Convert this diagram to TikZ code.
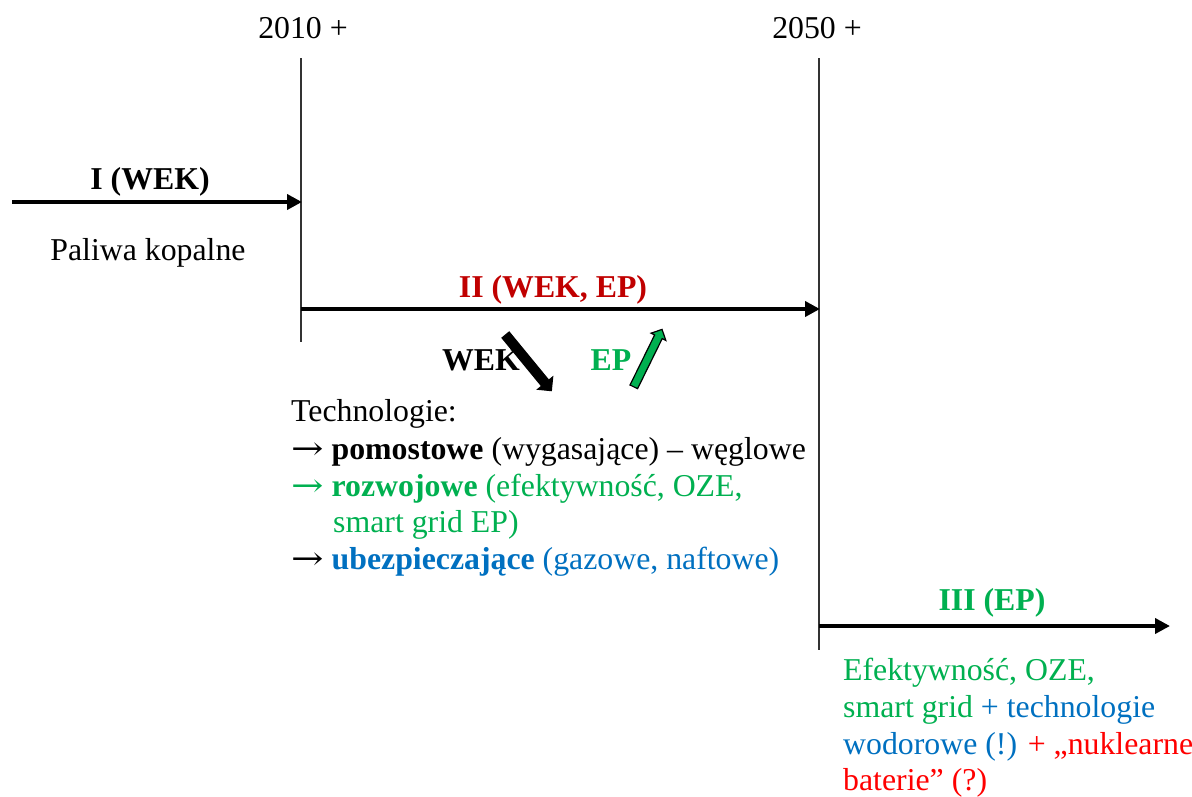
\documentclass[tikz,border=0pt]{standalone}
\usepackage{fontspec}
\setmainfont{Liberation Serif}
\newfontfamily\arrowfont{DejaVu Serif}
\usetikzlibrary{arrows.meta,shapes.arrows}
\definecolor{cgreen}{RGB}{0,176,80}
\definecolor{cblue}{RGB}{0,112,192}
\definecolor{cred}{RGB}{255,0,0}
\definecolor{cdred}{RGB}{192,0,0}
\newcommand{\itemarrow}{\scalebox{1.22}[1]{\arrowfont\mdseries →}}
\begin{document}
\begin{tikzpicture}[x=1pt,y=-1pt,
  txt/.style={inner sep=0pt,font=\fontsize{31.8}{37}\selectfont},
  bftxt/.style={inner sep=0pt,font=\fontsize{31.8}{37}\selectfont\bfseries},
  lbl/.style={txt,anchor=base},
  blbl/.style={bftxt,anchor=base},
  line/.style={anchor=base west,txt},
  vline/.style={line width=1.6pt,black!80},
  period/.style={line width=3.8pt,-{Triangle[length=15pt,width=15pt]}},
  blockarrow/.style={single arrow,draw=black,line width=1.2pt,single arrow head indent=0pt}]
\useasboundingbox (0,0) rectangle (1192,796);
% year markers
\node[lbl] (y2010) at (303,38) {2010 +};
\node[lbl] (y2050) at (817,38) {2050 +};
\coordinate (t1) at (301,58);
\coordinate (b1) at (301,342);
\coordinate (t2) at (819,58);
\coordinate (b2) at (819,650);
\draw[vline] (t1) -- (b1);
\draw[vline] (t2) -- (b2);
% period I
\coordinate (s1) at (12,202);
\coordinate (e1) at (302,202);
\draw[period] (s1) -- (e1);
\node[blbl] (l1) at (150,189) {I (WEK)};
\node[lbl] (pk) at (148,260) {Paliwa kopalne};
% period II
\coordinate (s2) at (301,309);
\coordinate (e2) at (820,309);
\draw[period] (s2) -- (e2);
\node[blbl,text=cdred] (l2) at (553,297) {II (WEK, EP)};
% period III
\coordinate (s3) at (819,626);
\coordinate (e3) at (1170,626);
\draw[period] (s3) -- (e3);
\node[blbl,text=cgreen] (l3) at (992,610) {III (EP)};
% WEK / EP trend arrows
\node[blbl] (wek) at (481,370) {WEK};
\node[blockarrow,fill=black,inner sep=4pt,minimum width=19pt,minimum height=72pt,single arrow head extend=5pt,rotate=-50.6] (awek) at (527,361) {};
\node[blbl,text=cgreen] (ep) at (611,370) {EP};
\node[blockarrow,fill=cgreen,inner sep=3.6pt,minimum width=16pt,minimum height=64pt,single arrow head extend=4pt,rotate=63.8] (aep) at (647,360) {};
% technologies block
\node[line] (tech) at (291,421) {Technologie:};
\node[line] (pom) at (291,459) {\itemarrow\ \textbf{pomostowe} (wygasające) – węglowe};
\node[line,text=cgreen] (roz) at (291,496) {\itemarrow\ \textbf{rozwojowe} (efektywność, OZE,};
\node[line,text=cgreen] (sg) at (333,532) {smart grid EP)};
\node[line] (ube) at (291,569) {\itemarrow\ \textcolor{cblue}{\textbf{ubezpieczające} (gazowe, naftowe)}};
% period III description
\node[line,text=cgreen] (d1) at (843,680) {Efektywność, OZE,};
\node[line,text=cgreen] (d2) at (843,717) {smart grid \textcolor{cblue}{+ technologie}};
\node[line,text=cblue] (d3) at (843,754) {wodorowe (!) \textcolor{cred}{+ „nuklearne}};
\node[line,text=cred] (d4) at (843,790) {baterie” (?)};
\end{tikzpicture}
\end{document}
